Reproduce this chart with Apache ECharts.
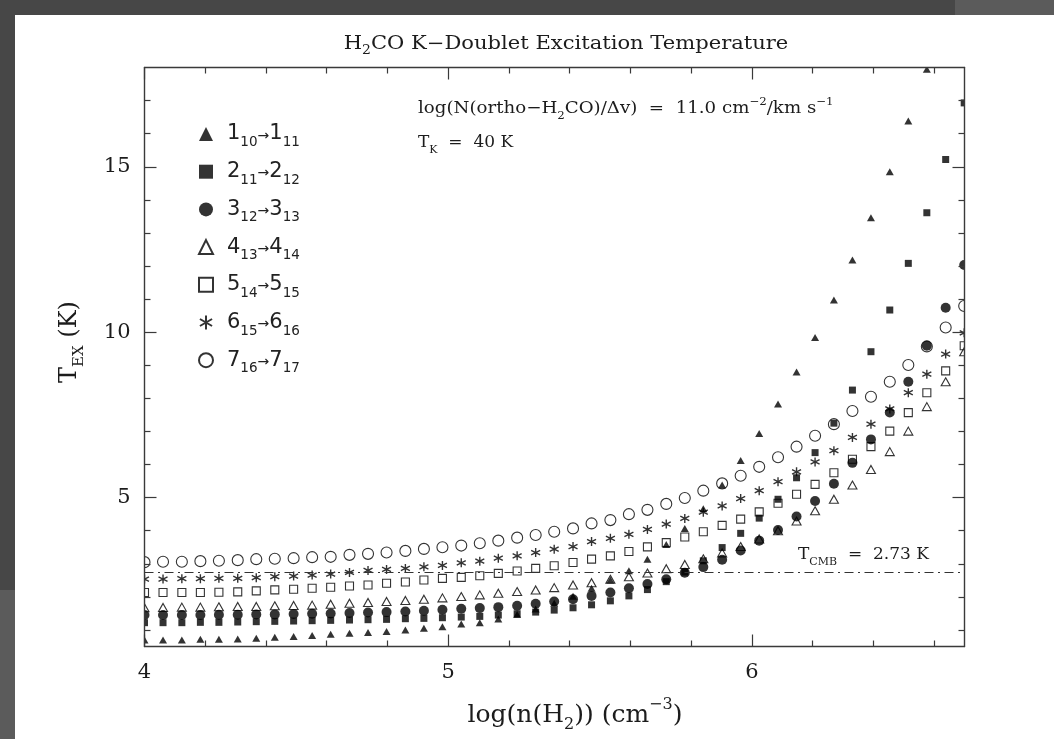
<!DOCTYPE html>
<html>
<head>
<meta charset="utf-8">
<script src="https://cdn.jsdelivr.net/npm/echarts@6/dist/echarts.min.js"></script>
<style>
  html, body { margin: 0; padding: 0; width: 1054px; height: 739px; overflow: hidden; background: #474747; }
  #card { position: absolute; left: 15px; top: 15px; width: 1039px; height: 724px; background: #ffffff; }
  #tr { position: absolute; left: 955px; top: 0; width: 99px; height: 15px; background: #5b5b5b; }
  #bl { position: absolute; left: 0; top: 590px; width: 15px; height: 149px; background: #5b5b5b; }
  #chart { position: absolute; left: 0; top: 0; width: 1054px; height: 739px; }
</style>
</head>
<body>
<div id="card"></div><div id="tr"></div><div id="bl"></div>
<div id="chart"></div>
<script>
// log10 of the H2 density (cm^-3) on the model grid
const logDensity = [4.000, 4.061, 4.123, 4.184, 4.245, 4.307, 4.368, 4.429, 4.491, 4.552,
  4.613, 4.675, 4.736, 4.797, 4.859, 4.920, 4.981, 5.043, 5.104, 5.165,
  5.227, 5.288, 5.349, 5.411, 5.472, 5.534, 5.595, 5.656, 5.718, 5.779,
  5.840, 5.902, 5.963, 6.024, 6.086, 6.147, 6.208, 6.270, 6.331, 6.392,
  6.454, 6.515, 6.576, 6.638, 6.699];

// Excitation temperature (K) of each K-doublet transition
const tex_1_10 = [0.70, 0.70, 0.70, 0.72, 0.72, 0.73, 0.75, 0.78, 0.80, 0.83,
  0.87, 0.90, 0.92, 0.95, 1.00, 1.05, 1.10, 1.18, 1.22, 1.33,
  1.47, 1.63, 1.81, 2.02, 2.26, 2.51, 2.79, 3.14, 3.58, 4.07,
  4.66, 5.38, 6.12, 6.94, 7.83, 8.80, 9.84, 10.97, 12.18, 13.46,
  14.85, 16.38, 17.95, null, null];
const tex_2_11 = [1.22, 1.22, 1.22, 1.23, 1.23, 1.24, 1.25, 1.26, 1.27, 1.28,
  1.29, 1.30, 1.31, 1.32, 1.34, 1.35, 1.37, 1.39, 1.41, 1.45,
  1.49, 1.54, 1.60, 1.67, 1.76, 1.88, 2.03, 2.22, 2.46, 2.75,
  3.09, 3.49, 3.92, 4.38, 4.95, 5.60, 6.36, 7.25, 8.25, 9.41,
  10.67, 12.08, 13.61, 15.22, 16.93];
const tex_3_12 = [1.45, 1.45, 1.45, 1.45, 1.46, 1.46, 1.47, 1.47, 1.48, 1.49,
  1.50, 1.51, 1.53, 1.54, 1.56, 1.58, 1.61, 1.64, 1.66, 1.69,
  1.73, 1.79, 1.86, 1.93, 2.03, 2.13, 2.26, 2.39, 2.53, 2.73,
  2.90, 3.12, 3.40, 3.70, 4.02, 4.43, 4.90, 5.42, 6.05, 6.76,
  7.57, 8.50, 9.59, 10.74, 12.03];
const tex_4_13 = [1.67, 1.68, 1.69, 1.69, 1.70, 1.71, 1.71, 1.73, 1.74, 1.75,
  1.78, 1.81, 1.83, 1.86, 1.89, 1.93, 1.97, 2.01, 2.06, 2.11,
  2.16, 2.21, 2.28, 2.36, 2.43, 2.53, 2.61, 2.72, 2.85, 2.98,
  3.15, 3.33, 3.52, 3.75, 4.00, 4.29, 4.60, 4.95, 5.38, 5.85,
  6.39, 7.01, 7.75, 8.50, 9.41];
const tex_5_14 = [2.13, 2.13, 2.13, 2.13, 2.14, 2.15, 2.18, 2.21, 2.23, 2.26,
  2.29, 2.33, 2.36, 2.41, 2.45, 2.51, 2.56, 2.59, 2.64, 2.71,
  2.78, 2.86, 2.94, 3.04, 3.14, 3.24, 3.37, 3.51, 3.64, 3.81,
  3.97, 4.16, 4.35, 4.57, 4.83, 5.10, 5.40, 5.75, 6.16, 6.54,
  7.01, 7.57, 8.17, 8.83, 9.59];
const tex_6_15 = [2.54, 2.54, 2.55, 2.55, 2.56, 2.56, 2.58, 2.61, 2.63, 2.66,
  2.69, 2.74, 2.80, 2.83, 2.86, 2.91, 2.95, 3.03, 3.08, 3.17,
  3.24, 3.34, 3.44, 3.52, 3.67, 3.77, 3.89, 4.04, 4.20, 4.37,
  4.56, 4.75, 4.97, 5.21, 5.48, 5.78, 6.08, 6.42, 6.82, 7.22,
  7.68, 8.17, 8.73, 9.34, 9.98];
const tex_7_16 = [3.05, 3.06, 3.06, 3.08, 3.09, 3.11, 3.14, 3.15, 3.17, 3.20,
  3.21, 3.27, 3.30, 3.34, 3.39, 3.45, 3.50, 3.55, 3.62, 3.70,
  3.79, 3.87, 3.97, 4.07, 4.22, 4.32, 4.50, 4.63, 4.81, 4.99,
  5.21, 5.43, 5.66, 5.93, 6.22, 6.54, 6.87, 7.22, 7.62, 8.05,
  8.50, 9.01, 9.57, 10.14, 10.79];

// Transition labels (rich-text markup: s = subscript, a = arrow)
const transitionNames = [
  '1{s|10}{a|→}1{s|11}', '2{s|11}{a|→}2{s|12}', '3{s|12}{a|→}3{s|13}',
  '4{s|13}{a|→}4{s|14}', '5{s|14}{a|→}5{s|15}', '6{s|15}{a|→}6{s|16}',
  '7{s|16}{a|→}7{s|17}'
];
const transitionValues = [tex_1_10, tex_2_11, tex_3_12, tex_4_13, tex_5_14, tex_6_15, tex_7_16];

const xMajorTicks = [4, 5, 6];
const xMinorTicks = [4.2, 4.4, 4.6, 4.8, 5.2, 5.4, 5.6, 5.8, 6.2, 6.4, 6.6];
const yMajorTicks = [5, 10, 15];
const yMinorTicks = [1, 2, 3, 4, 6, 7, 8, 9, 11, 12, 13, 14, 16, 17];
const tCMB = 2.73;

// ---- styling ----
const INK = '#1c1c1c';
const FRAME = '#3a3a3a';
const SERIF = 'DejaVu Serif';
const SANS = 'DejaVu Sans';
const STAR = 'path://M50 0L50 100M6.7 25L93.3 75M6.7 75L93.3 25';
const markerStyles = [
  { symbol: 'triangle', size: [8, 7], filled: true },
  { symbol: 'rect', size: 7, filled: true },
  { symbol: 'circle', size: 10, filled: true },
  { symbol: 'triangle', size: [9, 8], filled: false, line: 1.1 },
  { symbol: 'rect', size: 8, filled: false, line: 1.1 },
  { symbol: STAR, size: 9, filled: false, line: 1.4 },
  { symbol: 'circle', size: 11, filled: false, line: 1.1 }
];

const GRID = { left: 144.5, top: 67.5, width: 820, height: 579 };

function xAxisOf(position, ticks, len, withLine, labels) {
  return {
    type: 'value', position: position, min: 4, max: 6.7, z: 10,
    axisLine: { show: withLine, lineStyle: { color: FRAME, width: 1.4 } },
    axisTick: { show: true, inside: true, length: len, customValues: ticks,
      lineStyle: { color: FRAME, width: 1.2 } },
    axisLabel: labels ? { show: true, customValues: labels, margin: 16,
      fontFamily: SERIF, fontSize: 21, color: INK } : { show: false },
    splitLine: { show: false }
  };
}
function yAxisOf(position, ticks, len, withLine, labels) {
  return {
    type: 'value', position: position, min: 0.5, max: 18, z: 10,
    axisLine: { show: withLine, lineStyle: { color: FRAME, width: 1.4 } },
    axisTick: { show: true, inside: true, length: len, customValues: ticks,
      lineStyle: { color: FRAME, width: 1.2 } },
    axisLabel: labels ? { show: true, customValues: labels, margin: 14,
      fontFamily: SERIF, fontSize: 21, color: INK } : { show: false },
    splitLine: { show: false }
  };
}

const series = transitionValues.map(function (vals, k) {
  const m = markerStyles[k];
  const s = {
    name: transitionNames[k],
    type: 'scatter',
    xAxisIndex: 0, yAxisIndex: 0,
    symbol: m.symbol, symbolSize: m.size,
    clip: true,
    itemStyle: m.filled
      ? { color: '#000', borderWidth: 0 }
      : { color: 'rgba(0,0,0,0)', borderColor: '#000', borderWidth: m.line },
    emphasis: { disabled: true },
    data: logDensity.map(function (x, i) { return [x, vals[i]]; }),
    z: 2
  };
  if (k === 0) {
    s.markLine = {
      silent: true, symbol: 'none', animation: false,
      label: { show: false },
      lineStyle: { color: '#333', width: 1.2, type: [9, 4.5, 2, 4.5] },
      data: [{ yAxis: tCMB }]
    };
  }
  return s;
});

// white margins that trim symbols straddling the frame
function mask(x, y, w, h) {
  return { type: 'rect', silent: true, z: 5,
    shape: { x: x, y: y, width: w, height: h }, style: { fill: '#ffffff' } };
}
function label(text, x, y, size, opts) {
  opts = opts || {};
  const sub = Math.round(size * 0.64);
  const shift = Math.round(size * 0.8);
  return Object.assign({
    type: 'text', silent: true, z: 20, x: x, y: y,
    style: {
      text: text, fontFamily: SERIF, fontSize: size, fill: INK,
      align: opts.align || 'left', verticalAlign: 'middle', lineHeight: size + 2,
      rich: {
        sub: { fontFamily: SERIF, fontSize: sub, fill: INK, padding: [shift, 0, 0, 0] },
        sup: { fontFamily: SERIF, fontSize: sub, fill: INK, padding: [0, 0, shift, 0] }
      }
    }
  }, opts.extra || {});
}

const chart = echarts.init(document.getElementById('chart'), null, { renderer: 'canvas' });
chart.setOption({
  animation: false,
  backgroundColor: 'transparent',
  grid: GRID,
  xAxis: [
    xAxisOf('bottom', xMajorTicks, 12, true, xMajorTicks),
    xAxisOf('bottom', xMinorTicks, 6, false, null),
    xAxisOf('top', xMajorTicks, 12, true, null),
    xAxisOf('top', xMinorTicks, 6, false, null)
  ],
  yAxis: [
    yAxisOf('left', yMajorTicks, 12, true, yMajorTicks),
    yAxisOf('left', yMinorTicks, 6, false, null),
    yAxisOf('right', yMajorTicks, 12, true, null),
    yAxisOf('right', yMinorTicks, 6, false, null)
  ],
  legend: {
    orient: 'vertical', left: 198, top: 123, padding: 0,
    itemWidth: 14, itemHeight: 14, itemGap: 11.2,
    selectedMode: false,
    data: transitionNames,
    formatter: function (n) { return '{g|}' + n; },
    textStyle: {
      fontFamily: SANS, fontSize: 21, lineHeight: 22, color: '#222',
      rich: {
        g: { width: 9 },
        s: { fontFamily: SANS, fontSize: 13.5, color: '#222', padding: [17, 0, 0, 0] },
        a: { fontFamily: SANS, fontSize: 14, color: '#222', padding: [4, 0, 0, 0] }
      }
    }
  },
  graphic: [
    mask(15, 15, 129.5, 724),
    mask(964.5, 15, 89.5, 724),
    mask(15, 15, 1039, 52.5),
    mask(15, 646.5, 1039, 92.5),
    label('H{sub|2}CO K\u2212Doublet Excitation Temperature', 566, 44, 18,
      { align: 'center', extra: { scaleX: 1.17 } }),
    label('log(N(ortho\u2212H{sub|2}CO)/\u0394v)  =  11.0 cm{sup|\u22122}/km s{sup|\u22121}', 418, 109, 17,
      { extra: { scaleX: 1.07 } }),
    label('T{sub|K}  =  40 K', 418, 143, 17),
    label('T{sub|CMB}  =  2.73 K', 798, 555, 17),
    label('log(n(H{sub|2})) (cm{sup|\u22123})', 575, 715, 25, { align: 'center' }),
    label('T{sub|EX} (K)', 70, 342, 24, { align: 'center', extra: { rotation: Math.PI / 2 } })
  ],
  series: series
});
</script>
</body>
</html>
